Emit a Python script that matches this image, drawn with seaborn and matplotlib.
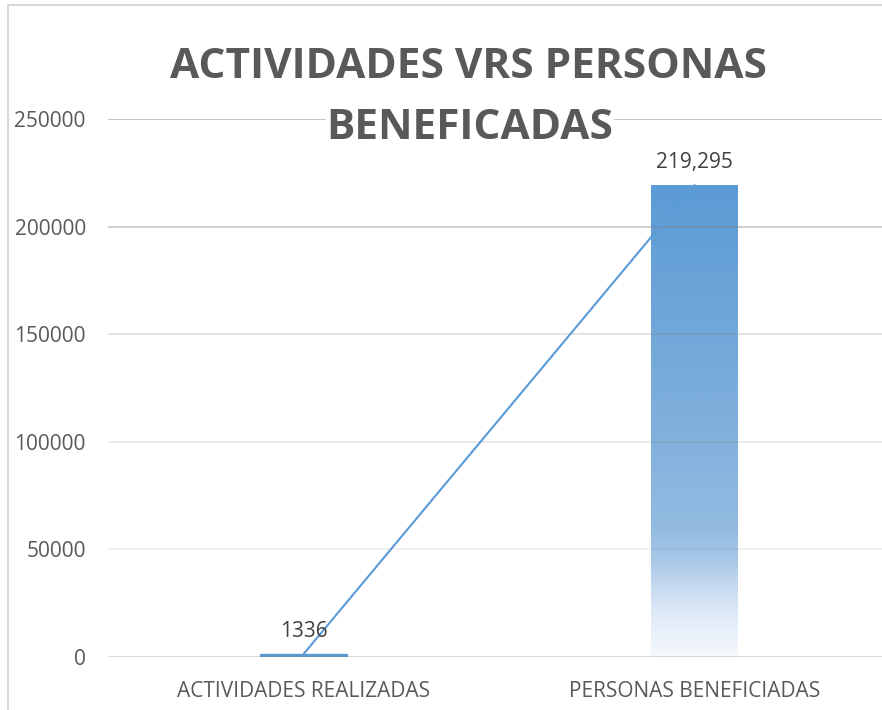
import numpy as np
import matplotlib
matplotlib.use("Agg")
import matplotlib.pyplot as plt
import seaborn as sns
from matplotlib.colors import LinearSegmentedColormap
from matplotlib.lines import Line2D

categories = ["ACTIVIDADES REALIZADAS", "PERSONAS BENEFICIADAS"]
values = [1336, 219295]
value_labels = ["1336", "219,295"]
yticks = [0, 50000, 100000, 150000, 200000, 250000]
title_line1 = "ACTIVIDADES VRS PERSONAS"
title_line2 = "BENEFICADAS"

sns.set_theme(style="white")
plt.rcParams['font.family'] = ['Open Sans', 'DejaVu Sans']

TXT = '#595959'
BLUE = '#5b9bd5'

fig = plt.figure(figsize=(8.82, 7.10), dpi=100)
ax = fig.add_axes([108/882, 53/710, 782/882, 538/710])

sns.barplot(x=categories, y=values, color=BLUE, saturation=1, width=0.2225,
            ax=ax, zorder=2)
ax.set_xlim(-0.5, 1.5)
ax.set_ylim(0, 250000)

# gradient fill for bars
cmap = LinearSegmentedColormap.from_list('g', [
    (0.0, '#f5f8fc'), (0.078, '#e3edf8'), (0.14, '#cadcf0'), (0.205, '#a8c7e7'),
    (0.27, '#93bbe1'), (0.5, '#7fafdc'), (1.0, '#5b9bd5')])
grad = np.linspace(0, 1, 256).reshape(-1, 1)
for p in ax.patches:
    h = p.get_height()
    if h > 10000:
        x0 = p.get_x(); w = p.get_width()
        im = ax.imshow(grad, cmap=cmap, origin='lower', aspect='auto',
                       extent=[x0, x0 + w, 0, h], zorder=2.1, interpolation='bilinear')
        im.set_clip_path(p)
    else:
        p.set_edgecolor(BLUE)
        p.set_linewidth(1.0)
ax.set_xlim(-0.5, 1.5)
ax.set_ylim(0, 250000)

# line series
ax.plot(np.arange(len(values)), values, color=BLUE, lw=1.5, zorder=3)

# gridlines with fading gray
alphas = [0.37, 0.12, 0.17, 0.245, 0.4, 0.5]
for t, a in zip(yticks, alphas):
    ax.axhline(t, color='#808080', alpha=a, lw=1.8 if t == 0 else 1.3, zorder=2.5)

ax.set_yticks(yticks)
ax.set_yticklabels([str(t) for t in yticks])
ax.tick_params(axis='y', length=0, pad=16, labelsize=15, labelcolor=TXT)
ax.tick_params(axis='x', length=0, pad=17, labelsize=15, labelcolor=TXT)
ax.set_xlabel('')
ax.set_ylabel('')
for s in ax.spines.values():
    s.set_visible(False)

# data labels
for i, (v, lab) in enumerate(zip(values, value_labels)):
    ax.annotate(lab, (i, v), xytext=(0, 12), textcoords='offset points',
                ha='center', va='baseline', fontsize=15, color='#404040', zorder=4)

# title
fig.text(468/882, 1 - 78/710, title_line1, ha='center', va='baseline',
         fontsize=30.5, fontweight='bold', color=TXT)
fig.text(470/882, 1 - 139/710, title_line2, ha='center', va='baseline',
         fontsize=30.5, fontweight='bold', color=TXT,
         bbox=dict(boxstyle='square,pad=0.02', fc='white', ec='none'), zorder=10)

# chart border
fig.add_artist(Line2D([8/882, 8/882], [0, 1 - 5/710], color='#d9d9d9', lw=1.5, transform=fig.transFigure))
fig.add_artist(Line2D([8/882, 1], [1 - 5/710, 1 - 5/710], color='#d9d9d9', lw=1.5, transform=fig.transFigure))

fig.savefig('out.png', dpi=100, facecolor='white')
